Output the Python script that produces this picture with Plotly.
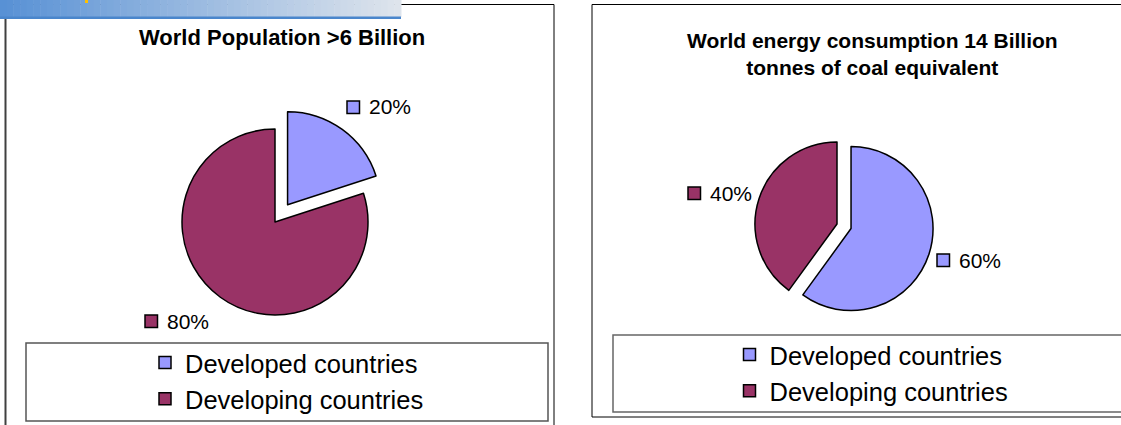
import plotly.graph_objects as go

# ---------------- data ----------------
categories = ["Developed countries", "Developing countries"]
population_share = [20, 80]      # World Population >6 Billion
energy_share = [60, 40]          # World energy consumption
title_pop = "World Population >6 Billion"
title_energy = "World energy consumption 14 Billion<br>tonnes of coal equivalent"

colors = ["#9999FF", "#993366"]

# second legend needs its own label keys (plotly shares pie labels across legends)
categories_2 = [c + " " for c in categories]

W, H = 1121, 425


def xp(px):
    return px / W


def yp(py):
    return 1 - py / H


fig = go.Figure()

# Pie 1: center (275,222), r=93, pull 0.23
c1x, c1y, r1, pull1 = 275, 222, 93, 0.23
hb1 = r1 * (1 + pull1)
fig.add_trace(go.Pie(
    labels=categories, values=population_share, sort=False,
    direction="clockwise", rotation=0,
    marker=dict(colors=colors, line=dict(color="black", width=1.5)),
    pull=[pull1, 0], textinfo="none", hoverinfo="label+percent",
    domain=dict(x=[xp(c1x - hb1), xp(c1x + hb1)], y=[yp(c1y + hb1), yp(c1y - hb1)]),
    legend="legend", showlegend=True,
))

# Pie 2: center (837,224), r=82, pull 0.18
c2x, c2y, r2, pull2 = 837, 224, 82, 0.18
hb2 = r2 * (1 + pull2)
fig.add_trace(go.Pie(
    labels=categories_2, values=energy_share, sort=False,
    direction="clockwise", rotation=0,
    marker=dict(colors=colors, line=dict(color="black", width=1.5)),
    pull=[pull2, 0], textinfo="none", hoverinfo="label+percent",
    domain=dict(x=[xp(c2x - hb2), xp(c2x + hb2)], y=[yp(c2y + hb2), yp(c2y - hb2)]),
    legend="legend2", showlegend=True,
))

shapes = []

# panel borders
shapes.append(dict(type="line", xref="paper", yref="paper", x0=xp(5.5), x1=xp(5.5), y0=yp(4), y1=yp(430),
                   line=dict(color="#404040", width=2)))
shapes.append(dict(type="line", xref="paper", yref="paper", x0=xp(5), x1=xp(554), y0=yp(4.5), y1=yp(4.5),
                   line=dict(color="black", width=1)))
shapes.append(dict(type="line", xref="paper", yref="paper", x0=xp(554), x1=xp(554), y0=yp(4.5), y1=yp(430),
                   line=dict(color="black", width=1)))
shapes.append(dict(type="rect", xref="paper", yref="paper", x0=xp(592), x1=xp(1130), y0=yp(417), y1=yp(4.5),
                   line=dict(color="black", width=1)))

# legend boxes
shapes.append(dict(type="rect", xref="paper", yref="paper", x0=xp(26), x1=xp(548), y0=yp(421), y1=yp(343),
                   line=dict(color="#555555", width=1.5)))
shapes.append(dict(type="rect", xref="paper", yref="paper", x0=xp(613), x1=xp(1135), y0=yp(412), y1=yp(335),
                   line=dict(color="#666666", width=1.5)))

# gradient header bar (top-left decoration)
n = 60
c_left = (88, 145, 213)
c_right = (222, 228, 236)
bar_w = 401
for i in range(n):
    t = i / (n - 1)
    c = tuple(int(round(c_left[k] + (c_right[k] - c_left[k]) * t)) for k in range(3))
    shapes.append(dict(type="rect", xref="paper", yref="paper",
                       x0=xp(bar_w * i / n), x1=xp(bar_w * (i + 1) / n + 0.5),
                       y0=yp(17), y1=yp(0), fillcolor="rgb(%d,%d,%d)" % c, line=dict(width=0), layer="above"))
shapes.append(dict(type="rect", xref="paper", yref="paper", x0=xp(0), x1=xp(bar_w), y0=yp(19), y1=yp(16.5),
                   fillcolor="#4a86cc", line=dict(width=0), layer="above"))
shapes.append(dict(type="rect", xref="paper", yref="paper", x0=xp(85), x1=xp(88), y0=yp(3), y1=yp(0),
                   fillcolor="#ffc000", line=dict(width=0), layer="above"))

annotations = []
annotations.append(dict(text="<b>%s</b>" % title_pop, x=xp(282), y=yp(38), xref="paper", yref="paper",
                        xanchor="center", yanchor="middle", showarrow=False,
                        font=dict(family="Liberation Sans, Arial", size=22, color="black")))
annotations.append(dict(text="<b>%s</b>" % title_energy.replace("<br>", "</b><br><b>"),
                        x=xp(872), y=yp(54), xref="paper", yref="paper",
                        xanchor="center", yanchor="middle", showarrow=False,
                        font=dict(family="Liberation Sans, Arial", size=21, color="black")))

# data labels: (value, color, square left px, center y px)
label_pos = [
    (population_share[0], colors[0], 347, 107),
    (population_share[1], colors[1], 145, 321),
    (energy_share[0], colors[0], 937, 260),
    (energy_share[1], colors[1], 688, 193),
]
for v, col, sx, sy in label_pos:
    shapes.append(dict(type="rect", xref="paper", yref="paper", x0=xp(sx), x1=xp(sx + 12.5),
                       y0=yp(sy + 6.5), y1=yp(sy - 6), fillcolor=col, line=dict(color="black", width=1.5)))
    annotations.append(dict(text="%d%%" % v, x=xp(sx + 20), y=yp(sy), xref="paper", yref="paper",
                            xanchor="left", yanchor="middle", showarrow=False,
                            font=dict(family="Liberation Sans, Arial", size=21, color="black")))

legend_font = dict(family="Liberation Sans, Arial", size=25.5, color="black")
fig.update_layout(
    width=W, height=H,
    margin=dict(l=0, r=0, t=0, b=0),
    paper_bgcolor="white", plot_bgcolor="white",
    shapes=shapes, annotations=annotations,
    legend=dict(x=xp(145), y=yp(381), xanchor="left", yanchor="middle",
                font=legend_font, bgcolor="rgba(0,0,0,0)", borderwidth=0, traceorder="normal"),
    legend2=dict(x=xp(729.5), y=yp(373), xanchor="left", yanchor="middle",
                 font=legend_font, bgcolor="rgba(0,0,0,0)", borderwidth=0, traceorder="normal"),
)

fig.write_html("out.html")
